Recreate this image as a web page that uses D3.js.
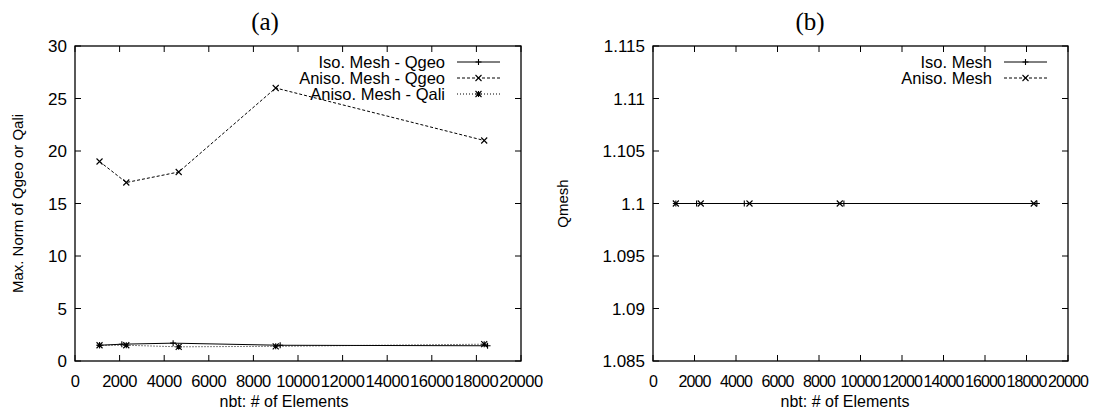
<!DOCTYPE html>
<html>
<head>
<meta charset="utf-8">
<script src="https://cdn.jsdelivr.net/npm/d3@7"></script>
<style>
  body { margin: 0; background: #fff; }
  svg text { font-family: "Liberation Sans", Arial, sans-serif; fill: #000; }
  .title { font-family: "Liberation Serif", "DejaVu Serif", serif; }
</style>
</head>
<body>
<svg id="chart" width="1101" height="414"></svg>
<script>
// Element counts per mesh
const isoElements   = [1100, 2100, 4400, 9200, 18500];
const anisoElements = [1100, 2300, 4650, 9000, 18350];

// (a) maximum norm of quality measures
const isoQgeo   = [1.5, 1.6, 1.7, 1.5, 1.45];
const anisoQgeo = [19, 17, 18, 26, 21];
const anisoQali = [1.5, 1.5, 1.35, 1.4, 1.6];

// (b) mesh quality
const isoQmesh   = [1.1, 1.1, 1.1, 1.1, 1.1];
const anisoQmesh = [1.1, 1.1, 1.1, 1.1, 1.1];

const xTicks  = [0, 2000, 4000, 6000, 8000, 10000, 12000, 14000, 16000, 18000, 20000];
const yTicksA = [0, 5, 10, 15, 20, 25, 30];
const yTicksB = [1.085, 1.09, 1.095, 1.1, 1.105, 1.11, 1.115];

const svg = d3.select("#chart");

// marker shapes: plus, cross, star
function marker(g, type, x, y) {
  const s = 3;
  const p = d3.path();
  if (type === "plus" || type === "star") {
    p.moveTo(x - s, y); p.lineTo(x + s, y);
    p.moveTo(x, y - s); p.lineTo(x, y + s);
  }
  if (type === "cross" || type === "star") {
    p.moveTo(x - s, y - s); p.lineTo(x + s, y + s);
    p.moveTo(x - s, y + s); p.lineTo(x + s, y - s);
  }
  g.append("path").attr("d", p.toString())
    .attr("stroke", "#000").attr("stroke-width", 1.1).attr("fill", "none");
}

function panel(cfg) {
  const x = d3.scaleLinear().domain([0, 20000]).range([cfg.left, cfg.right]);
  const y = d3.scaleLinear().domain(cfg.yDomain).range([cfg.bottom, cfg.top]);
  const g = svg.append("g");

  // inward ticks on all four sides
  const tickLen = 6;
  xTicks.forEach(t => {
    g.append("line").attr("x1", x(t)).attr("x2", x(t))
      .attr("y1", cfg.bottom).attr("y2", cfg.bottom - tickLen).attr("stroke", "#000");
    g.append("line").attr("x1", x(t)).attr("x2", x(t))
      .attr("y1", cfg.top).attr("y2", cfg.top + tickLen).attr("stroke", "#000");
    g.append("text").attr("x", x(t)).attr("y", cfg.bottom + 26)
      .attr("text-anchor", "middle").attr("font-size", cfg.xTickSize)
      .attr("letter-spacing", cfg.xTickSpacing).text(t);
  });
  cfg.yTicks.forEach(t => {
    g.append("line").attr("x1", cfg.left).attr("x2", cfg.left + tickLen)
      .attr("y1", y(t)).attr("y2", y(t)).attr("stroke", "#000");
    g.append("line").attr("x1", cfg.right).attr("x2", cfg.right - tickLen)
      .attr("y1", y(t)).attr("y2", y(t)).attr("stroke", "#000");
    g.append("text").attr("x", cfg.left - 8).attr("y", y(t)).attr("dy", "0.36em")
      .attr("text-anchor", "end").attr("font-size", 17).text(cfg.fmt(t));
  });

  // frame
  g.append("rect").attr("x", cfg.left).attr("y", cfg.top)
    .attr("width", cfg.right - cfg.left).attr("height", cfg.bottom - cfg.top)
    .attr("fill", "none").attr("stroke", "#000").attr("stroke-width", 1.3);

  // series
  const line = d3.line().x(d => x(d[0])).y(d => y(d[1]));
  cfg.series.forEach((s, i) => {
    const pts = s.xs.map((v, k) => [v, s.ys[k]]);
    g.append("path").attr("d", line(pts)).attr("fill", "none")
      .attr("stroke", "#000").attr("stroke-width", 1)
      .attr("stroke-dasharray", s.dash);
    pts.forEach(p => marker(g, s.marker, x(p[0]), y(p[1])));

    // legend entry
    const ly = cfg.top + 16 + i * 16;
    const lx1 = cfg.right - 64, lx2 = cfg.right - 21;
    g.append("text").attr("x", lx1 - 12).attr("y", ly).attr("dy", "0.36em")
      .attr("text-anchor", "end").attr("font-size", 16.5).text(s.name);
    g.append("line").attr("x1", lx1).attr("x2", lx2).attr("y1", ly).attr("y2", ly)
      .attr("stroke", "#000").attr("stroke-width", 1).attr("stroke-dasharray", s.dash);
    marker(g, s.marker, (lx1 + lx2) / 2, ly);
  });

  // titles and axis labels
  g.append("text").attr("class", "title").attr("x", cfg.titleX).attr("y", 30)
    .attr("text-anchor", "middle").attr("font-size", 25).text(cfg.title);
  g.append("text").attr("x", cfg.xLabelX).attr("y", 407)
    .attr("text-anchor", "middle").attr("font-size", 16).text("nbt: # of Elements");
  g.append("text")
    .attr("transform", `translate(${cfg.yLabelX},${(cfg.top + cfg.bottom) / 2}) rotate(-90)`)
    .attr("text-anchor", "middle").attr("font-size", 15).text(cfg.yLabel);
}

panel({
  left: 75, right: 521, top: 46, bottom: 361,
  yDomain: [0, 30], yTicks: yTicksA, fmt: d => d,
  xTickSize: 16.5, xTickSpacing: -0.45,
  title: "(a)", titleX: 265, xLabelX: 284,
  yLabel: "Max. Norm of Qgeo or Qali", yLabelX: 23,
  series: [
    { name: "Iso. Mesh - Qgeo",   xs: isoElements,   ys: isoQgeo,   dash: null,  marker: "plus" },
    { name: "Aniso. Mesh - Qgeo", xs: anisoElements, ys: anisoQgeo, dash: "3,2", marker: "cross" },
    { name: "Aniso. Mesh - Qali", xs: anisoElements, ys: anisoQali, dash: "1,2", marker: "star" }
  ]
});

panel({
  left: 653, right: 1068, top: 46, bottom: 361,
  yDomain: [1.085, 1.115], yTicks: yTicksB, fmt: d => d3.format("")(+d.toFixed(3)),
  xTickSize: 16, xTickSpacing: -0.85,
  title: "(b)", titleX: 810, xLabelX: 845,
  yLabel: "Qmesh", yLabelX: 568,
  series: [
    { name: "Iso. Mesh",   xs: isoElements,   ys: isoQmesh,   dash: null,  marker: "plus" },
    { name: "Aniso. Mesh", xs: anisoElements, ys: anisoQmesh, dash: "3,2", marker: "cross" }
  ]
});
</script>
</body>
</html>
